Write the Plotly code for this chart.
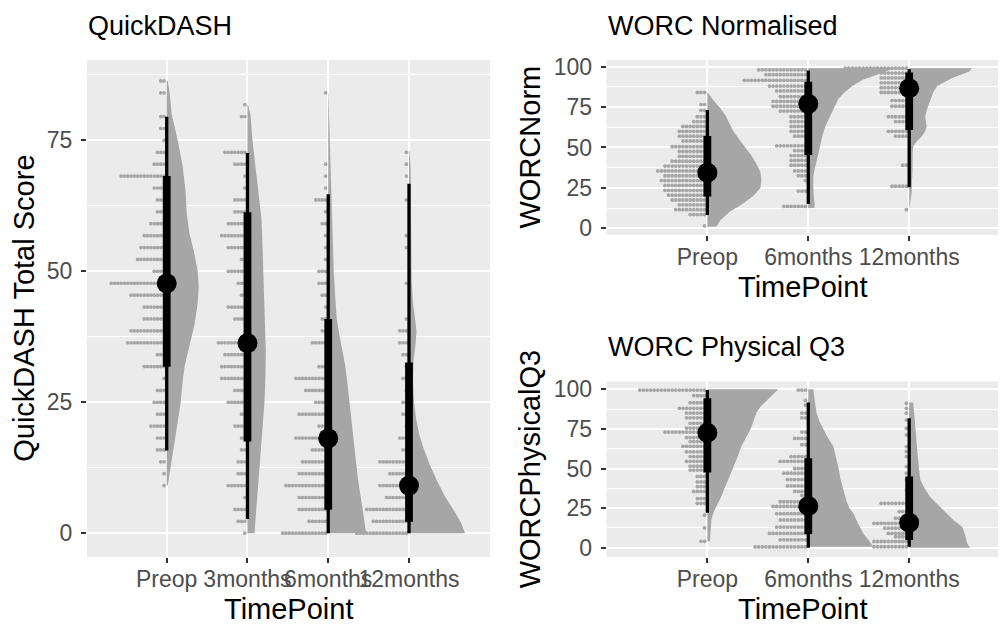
import plotly.graph_objects as go

W, H = 1003, 624
FONT = "Liberation Sans, Arial, Helvetica, sans-serif"

# ---------------- data: QuickDASH ----------------
qd_groups = ["Preop", "3months", "6months", "12months"]
qd_bin = 25 / 11  # QuickDASH score step
# dot counts per score bin k (value = k * qd_bin), k = 0..38
qd_n_preop = [0, 0, 0, 0, 1, 1, 2, 3, 3, 5, 3, 4, 3, 1, 7, 3, 12, 11, 7, 7, 11, 17, 4, 9, 8, 7, 5, 3, 3, 4, 14, 4, 3, 1, 2, 2, 0, 2, 2]
qd_n_3m = [1, 3, 4, 1, 6, 3, 3, 2, 2, 4, 2, 6, 4, 8, 8, 7, 9, 0, 4, 6, 2, 3, 6, 2, 6, 8, 6, 4, 4, 1, 1, 4, 7, 0, 0, 2, 1, 0, 0]
qd_n_6m = [14, 6, 9, 9, 13, 9, 8, 5, 10, 3, 9, 4, 7, 10, 3, 0, 5, 2, 2, 1, 2, 3, 3, 1, 1, 1, 2, 1, 4, 1, 1, 1, 0, 0, 0, 0, 0, 1, 0]
qd_n_12m = [16, 11, 13, 7, 9, 6, 9, 2, 3, 1, 2, 2, 1, 2, 1, 2, 3, 3, 1, 0, 0, 1, 0, 0, 1, 1, 0, 0, 1, 0, 1, 1, 1, 0, 0, 0, 0, 0, 0]
# half-violin density outlines (value, relative density)
qd_dy_preop = [86.4, 84, 80, 75, 70, 65, 61, 57, 54, 50, 47, 44, 40, 36, 32, 29, 25, 20, 15, 11, 9.1]
qd_dw_preop = [1, 3, 5, 11, 16, 19, 20, 23, 27, 31, 32, 31, 28, 23, 18, 16, 14, 10, 6, 3, 1]
qd_dy_3m = [81.8, 80, 75, 70, 65, 60, 55, 50, 45, 40, 35, 30, 25, 20, 15, 10, 5, 0]
qd_dw_3m = [0.5, 3, 5, 8, 11, 14, 15, 16, 16.5, 17.5, 18.3, 18, 17, 15, 13, 10.5, 8.5, 7]
qd_dy_6m = [84, 80, 75, 70, 63, 55, 50, 45, 41, 38, 35, 32, 29, 25, 20, 15, 10, 5, 2, 0]
qd_dw_6m = [0.3, 0.8, 1.5, 2.5, 3.3, 4.5, 5.5, 7, 8.5, 11, 14, 17, 19, 21.5, 24, 27, 30, 34, 36.5, 38]
qd_dy_12m = [73, 70, 65, 55, 48, 44, 41, 38.6, 36, 33, 29, 25, 22, 19, 16, 13, 10, 7, 4, 2, 0]
qd_dw_12m = [0.5, 1.5, 2, 2.3, 2.7, 4, 6, 7.5, 6.5, 4.5, 4, 5, 7, 10, 15, 21, 28, 36, 46, 52, 56]
# median, 66% low, 66% high, 95% low, 95% high
qd_int = [
    [47.7, 31.8, 68.2, 15.8, 79.5],
    [36.3, 17.5, 61.3, 2.7, 72.6],
    [18.1, 4.5, 40.9, 0.0, 64.7],
    [9.1, 2.2, 32.6, 0.0, 66.7],
]

# ---------------- data: WORC Normalised ----------------
wn_groups = ["Preop", "6months", "12months"]
wn_v_preop = [84, 76.5, 73, 69, 66, 63, 60, 57, 54, 50.5, 47.5, 44.5, 41.5, 38.5, 35.5, 32.5, 29.5, 26.5, 23.5, 20.5, 17.5, 14.5, 11.5, 8.5, 1.5]
wn_n_preop = [3, 2, 2, 3, 4, 7, 8, 8, 7, 10, 8, 8, 10, 12, 14, 12, 13, 12, 12, 11, 10, 8, 9, 5, 1]
wn_v_6m = [98, 95, 91.5, 88, 85, 81.5, 78.5, 75.5, 72.5, 69, 66, 63, 60, 57, 51, 48, 45, 42, 39, 35.5, 32.5, 29.5, 23, 13.5]
wn_n_6m = [14, 12, 18, 11, 9, 8, 10, 10, 8, 5, 5, 5, 5, 4, 9, 4, 5, 5, 5, 4, 3, 1, 3, 7]
wn_v_12m = [99, 96, 93, 90, 87, 84, 79, 75.5, 69, 66, 60, 57, 39, 26, 11.5]
wn_n_12m = [18, 8, 8, 8, 8, 8, 5, 5, 6, 4, 6, 4, 2, 5, 1]
wn_dy_preop = [84, 80, 75, 70, 65, 60, 55, 50, 45, 40, 35, 30, 25, 20, 15, 10, 5, 1]
wn_dw_preop = [0.5, 5, 12, 18, 22, 26, 32, 38, 44, 49, 53, 54, 53, 46, 35, 22, 13, 9]
wn_dy_6m = [99, 97, 95, 92, 88, 84, 80, 75, 70, 63, 57, 51, 46, 42, 37, 32, 28, 24, 19, 15, 12.5]
wn_dw_6m = [84, 78, 68, 55, 44, 36, 30, 26, 22, 17, 14, 12, 10, 8.5, 6.5, 5, 5, 5, 5.5, 6.5, 6]
wn_dy_12m = [99, 97, 95, 93, 90, 88, 84, 79, 74, 69, 66, 63, 60, 57, 54, 51, 47, 42, 38, 34, 30, 26, 22, 18, 14, 11.5]
wn_dw_12m = [63, 60, 52, 43, 34, 28, 24, 21, 18, 16, 16.5, 17.5, 16, 12.7, 8, 4.3, 3.5, 3.7, 3.8, 3.3, 2.8, 2.7, 2.5, 1.5, 1, 0.3]
wn_int = [
    [34.4, 19.6, 57.1, 8.2, 73.2],
    [77.0, 45.4, 90.7, 15.1, 97.6],
    [86.6, 60.8, 96.3, 25.4, 98.4],
]

# ---------------- data: WORC Physical Q3 ----------------
wp_groups = ["Preop", "6months", "12months"]
wp_v_preop = [99.5, 96, 91.5, 88, 85, 82, 78.5, 75.5, 73, 69.5, 67, 64, 60.5, 57.5, 54.5, 51.5, 49, 45, 41.5, 38.5, 35.5, 31, 28, 20.5, 12.5, 4]
wp_n_preop = [19, 4, 5, 8, 6, 6, 5, 6, 12, 6, 5, 7, 6, 5, 6, 5, 5, 3, 3, 3, 4, 3, 3, 1, 1, 2]
wp_v_6m = [99.5, 93, 90, 85, 82, 73, 69, 65, 57.5, 54.5, 50, 47, 43, 39, 35.5, 33, 29, 26, 21.5, 17.5, 13, 9, 5, 0.5]
wp_n_6m = [3, 1, 1, 2, 2, 2, 4, 2, 5, 8, 4, 7, 6, 6, 4, 2, 8, 10, 9, 8, 9, 11, 8, 15]
wp_v_12m = [91.2, 88, 84.9, 80.6, 75.4, 71.2, 63.8, 60.7, 57.5, 51.2, 47, 42.8, 36.5, 28, 22.8, 18.6, 15.4, 12.3, 9, 6.9, 3.9, 0.6]
wp_n_12m = [1, 1, 1, 1, 1, 1, 1, 1, 1, 1, 1, 1, 1, 8, 3, 4, 10, 7, 6, 4, 10, 10]
wp_dy_preop = [100, 97, 93, 89, 85, 80, 74.5, 70, 64, 57, 51, 45, 40, 36.4, 31, 26, 22, 17.5, 12, 8, 4]
wp_dw_preop = [71, 66, 59, 53, 49, 46, 43, 39, 34, 30, 26, 22, 19, 17, 13, 9, 6, 4, 3, 3, 2.7]
wp_dy_6m = [100, 95, 90, 85, 80, 74.5, 70, 64, 57, 51, 44, 36.4, 30, 25, 21.7, 15, 9, 5, 0.6]
wp_dw_6m = [5, 6, 7, 8.3, 11, 15, 19, 25, 28, 30, 32, 35, 38, 41, 45, 50, 55, 60, 65]
wp_dy_12m = [91.6, 85, 75, 64, 55, 48, 43, 38, 32, 27, 21.7, 17, 13.2, 8, 2.7, 0]
wp_dw_12m = [4, 5, 6, 7.7, 9, 10, 11, 15, 21, 29, 38, 45, 53, 56, 58, 61]
wp_int = [
    [72.6, 47.4, 94.4, 22.1, 99.6],
    [26.3, 8.6, 56.4, 0.0, 91.6],
    [15.8, 4.85, 44.9, 0.6, 81.7],
]

# ---------------- style / layout ----------------
PANEL_BG = "#EBEBEB"
SLAB = "#A6A6A6"
DOT = "#A6A6A6"
TICK_COL = "#4D4D4D"

# panel pixel boxes: (left, right, top, bottom)
P1 = (87, 490, 60, 557)
P2 = (606.7, 998, 60, 235)
P3 = (606.7, 998, 381.7, 557)

X1 = [0.013, 5.003]
X23 = [0.0025, 3.88]
Y1 = [-4.54, 90.35]
Y2 = [-4.15, 104.1]
Y3 = [-5.87, 104.8]


def dom(p):
    return [p[0] / W, p[1] / W], [1 - p[3] / H, 1 - p[2] / H]


fig = go.Figure()


def px_per_x(p, xr):
    return (p[1] - p[0]) / (xr[1] - xr[0])


def add_group(xa, ya, c, dot_vals, dot_n, dy, dw, iv, ppx, pitch_px, msize):
    # half violin (slab)
    sx = [c] + [c + w / ppx for w in dw] + [c]
    sy = [dy[0]] + list(dy) + [dy[-1]]
    fig.add_trace(go.Scatter(x=sx, y=sy, mode="lines", fill="toself",
                             fillcolor=SLAB, line=dict(width=0, color=SLAB),
                             xaxis=xa, yaxis=ya, hoverinfo="skip"))
    # dots stacked to the left
    xs, ys = [], []
    pitch = pitch_px / ppx
    off = 1.0 / ppx
    for v, n in zip(dot_vals, dot_n):
        for j in range(n):
            xs.append(c - off - (j + 0.5) * pitch)
            ys.append(v)
    fig.add_trace(go.Scatter(x=xs, y=ys, mode="markers",
                             marker=dict(size=msize, color=DOT, line=dict(width=0)),
                             xaxis=xa, yaxis=ya, hoverinfo="skip"))
    med, lo66, hi66, lo95, hi95 = iv
    fig.add_trace(go.Scatter(x=[c, c], y=[lo95, hi95], mode="lines",
                             line=dict(color="black", width=3.3),
                             xaxis=xa, yaxis=ya, hoverinfo="skip"))
    fig.add_trace(go.Scatter(x=[c, c], y=[lo66, hi66], mode="lines",
                             line=dict(color="black", width=7.8),
                             xaxis=xa, yaxis=ya, hoverinfo="skip"))
    fig.add_trace(go.Scatter(x=[c], y=[med], mode="markers",
                             marker=dict(size=20, color="black", line=dict(width=0)),
                             xaxis=xa, yaxis=ya, hoverinfo="skip"))


ppx1 = px_per_x(P1, X1)
ppx2 = px_per_x(P2, X23)

qd_dots = [qd_n_preop, qd_n_3m, qd_n_6m, qd_n_12m]
qd_dens = [(qd_dy_preop, qd_dw_preop), (qd_dy_3m, qd_dw_3m), (qd_dy_6m, qd_dw_6m), (qd_dy_12m, qd_dw_12m)]
for i, g in enumerate(qd_groups):
    vals = [k * qd_bin for k in range(len(qd_dots[i]))]
    add_group("x", "y", i + 1, vals, qd_dots[i], qd_dens[i][0], qd_dens[i][1], qd_int[i], ppx1, 3.3, 3.7)

wn_dots = [(wn_v_preop, wn_n_preop), (wn_v_6m, wn_n_6m), (wn_v_12m, wn_n_12m)]
wn_dens = [(wn_dy_preop, wn_dw_preop), (wn_dy_6m, wn_dw_6m), (wn_dy_12m, wn_dw_12m)]
for i, g in enumerate(wn_groups):
    add_group("x2", "y2", i + 1, wn_dots[i][0], wn_dots[i][1], wn_dens[i][0], wn_dens[i][1], wn_int[i], ppx2, 3.6, 3.8)

wp_dots = [(wp_v_preop, wp_n_preop), (wp_v_6m, wp_n_6m), (wp_v_12m, wp_n_12m)]
wp_dens = [(wp_dy_preop, wp_dw_preop), (wp_dy_6m, wp_dw_6m), (wp_dy_12m, wp_dw_12m)]
for i, g in enumerate(wp_groups):
    add_group("x3", "y3", i + 1, wp_dots[i][0], wp_dots[i][1], wp_dens[i][0], wp_dens[i][1], wp_int[i], ppx2, 3.6, 3.8)


def xaxis(p, xr, groups):
    d, _ = dom(p)
    return dict(domain=d, range=xr, tickmode="array", tickvals=list(range(1, len(groups) + 1)),
                ticktext=groups, ticks="outside", ticklen=5, tickwidth=2, tickcolor="#333333",
                showgrid=True, gridcolor="white", gridwidth=2.1, zeroline=False, showline=False,
                tickangle=0, automargin=False, ticklabelstandoff=-4,
                tickfont=dict(family=FONT, size=23, color=TICK_COL), fixedrange=True)


def yaxis(p, yr, major, minor, anchor):
    _, d = dom(p)
    return dict(domain=d, range=yr, anchor=anchor, tickmode="array", tickvals=major,
                ticks="outside", ticklen=5, tickwidth=2, tickcolor="#333333",
                showgrid=True, gridcolor="white", gridwidth=2.1, zeroline=False, showline=False,
                minor=dict(tickmode="array", tickvals=minor, showgrid=True, gridcolor="white",
                           gridwidth=1.1, ticks=""),
                ticklabelstandoff=4, automargin=False,
                tickfont=dict(family=FONT, size=23, color=TICK_COL), fixedrange=True)


def ann(text, xpx, ypx, size, xanchor="center", angle=0):
    return dict(text=text, x=xpx / W, y=1 - ypx / H, xref="paper", yref="paper",
                xanchor=xanchor, yanchor="middle", showarrow=False, textangle=angle,
                font=dict(family=FONT, size=size, color="black"), borderpad=0)


annotations = [
    ann("QuickDASH", P1[0], 26, 27, "left"),
    ann("WORC Normalised", P2[0], 26, 27, "left"),
    ann("WORC Physical Q3", P3[0], 346.5, 27, "left"),
    ann("QuickDASH Total Score", 23.3, (P1[2] + P1[3]) / 2, 29, angle=-90),
    ann("TimePoint", (P1[0] + P1[1]) / 2, 609, 29),
    ann("WORCNorm", 530, (P2[2] + P2[3]) / 2, 29, angle=-90),
    ann("TimePoint", (P2[0] + P2[1]) / 2, 287, 29),
    ann("WORCPhysicalQ3", 530, (P3[2] + P3[3]) / 2, 29, angle=-90),
    ann("TimePoint", (P3[0] + P3[1]) / 2, 609, 29),
]

shapes = []
for p in (P1, P2, P3):
    shapes.append(dict(type="rect", xref="paper", yref="paper", layer="below",
                       x0=p[0] / W, x1=p[1] / W, y0=1 - p[3] / H, y1=1 - p[2] / H,
                       fillcolor=PANEL_BG, line=dict(width=0)))

fig.update_layout(
    width=W, height=H, margin=dict(l=0, r=0, t=0, b=0, autoexpand=False),
    paper_bgcolor="white", plot_bgcolor=PANEL_BG, showlegend=False,
    xaxis=dict(xaxis(P1, X1, qd_groups), anchor="y"),
    yaxis=yaxis(P1, Y1, [0, 25, 50, 75], [12.5, 37.5, 62.5, 87.5], "x"),
    xaxis2=dict(xaxis(P2, X23, wn_groups), anchor="y2"),
    yaxis2=yaxis(P2, Y2, [0, 25, 50, 75, 100], [12.5, 37.5, 62.5, 87.5], "x2"),
    xaxis3=dict(xaxis(P3, X23, wp_groups), anchor="y3"),
    yaxis3=yaxis(P3, Y3, [0, 25, 50, 75, 100], [12.5, 37.5, 62.5, 87.5], "x3"),
    annotations=annotations,
    shapes=shapes,
    font=dict(family=FONT),
)

fig.write_html("out.html")
